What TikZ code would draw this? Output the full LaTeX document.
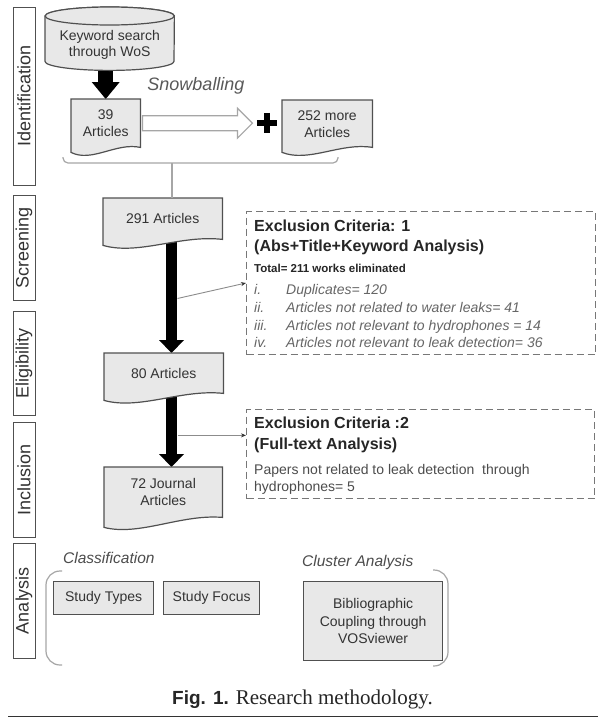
\documentclass[tikz,border=0pt]{standalone}
\usepackage{fontspec}
\setmainfont{Liberation Sans}
\newfontfamily\serifcap{Liberation Serif}
\usetikzlibrary{arrows.meta,calc,backgrounds}
\newcommand\fsz[2]{\fontsize{#1}{#2}\selectfont}
\definecolor{boxfill}{HTML}{E8E8E8}
\definecolor{boxline}{HTML}{505050}
\definecolor{txt}{HTML}{333333}
\definecolor{dashline}{HTML}{777777}
\newcommand\docshape[2]{%
  \coordinate (#1L) at ($(#1.south west)+(0,-#2pt)$);
  \filldraw[docst] (#1L) -- (#1.north west) -- (#1.north east) -- (#1.south east)
    .. controls ($(#1.south east)!0.35!(#1L)+(0,7pt)$) and ($(#1.south east)!0.7!(#1L)+(0,-12pt)$) .. (#1L) -- cycle;}
\begin{document}
\begin{tikzpicture}[x=1pt,y=-1pt]
\tikzset{
  lab/.style={draw=boxline, line width=1pt, rotate=90, minimum height=22pt, inner sep=0pt, font=\fsz{18}{21}, text=txt},
  doc/.style={inner sep=0pt, font=\fsz{14}{17}, text=txt, align=center},
  docst/.style={fill=boxfill, draw=boxline, line width=1.2pt},
  pbox/.style={fill=boxfill, draw=boxline, line width=1.3pt, inner sep=0pt, font=\fsz{14}{17.5}, text=txt, align=center, anchor=north west},
  excl/.style={draw=dashline, line width=1pt, dash pattern=on 7pt off 4pt, inner sep=0pt, anchor=north west},
  ehead/.style={anchor=base west, inner sep=0pt, font=\bfseries\fsz{16}{19}, text=black!85},
  etot/.style={anchor=base west, inner sep=0pt, font=\bfseries\fsz{11.5}{13}, text=black!85},
  eitem/.style={anchor=base west, inner sep=0pt, font=\itshape\fsz{14}{17}, text=black!60},
  etext/.style={anchor=base west, inner sep=0pt, font=\fsz{14}{17}, text=black!70},
  sect/.style={anchor=west, inner sep=0pt, font=\itshape\fsz{15.5}{18}, text=black!70},
  bigarrowA/.style={line width=15pt, -{Triangle[width=28pt,length=17pt,line width=0pt]}},
  bigarrow/.style={line width=11pt, -{Triangle[width=25pt,length=13pt,line width=0pt]}},
  hollow/.style={draw=black!35, line width=1.2pt, fill=white},
  brk/.style={draw=black!35, line width=1.2pt},
  vline/.style={draw=black!35, line width=1.2pt},
  conn/.style={draw=black!45, line width=0.9pt, -{Stealth[length=5pt,width=4pt,color=black!80]}}
}
\useasboundingbox (0,0) rectangle (616,718);

% phase labels
\node[lab, minimum width=178pt] (lid) at (24,96) {Identification};
\node[lab, minimum width=105pt] (lsc) at (24,247.5) {Screening};
\node[lab, minimum width=104pt] (lel) at (24,363) {Eligibility};
\node[lab, minimum width=115pt] (lin) at (24,479.5) {Inclusion};
\node[lab, minimum width=115pt] (lan) at (24,600.5) {Analysis};

% database
\node[inner sep=0pt, minimum width=129pt, minimum height=45pt, anchor=north west] (kw) at (45,16) {};
\node[doc, font=\fsz{14}{16}] (kwt) at ($(kw.center)+(0,-6.5pt)$) {Keyword search\\through WoS};

% documents
\node[doc, minimum width=69pt, minimum height=48pt, anchor=north west] (n39) at (71,99) {39\\Articles};
\node[doc, minimum width=90pt, minimum height=47pt, anchor=north west] (n252) at (282,100) {252 more\\Articles};
\node[doc, minimum width=119pt, minimum height=41pt, anchor=north west] (n291) at (103,198) {291 Articles};
\node[doc, minimum width=119pt, minimum height=40pt, anchor=north west] (n80) at (104,353) {80 Articles};
\node[doc, minimum width=118pt, minimum height=50pt, anchor=north west] (n72) at (104,467) {72 Journal\\Articles};

\node[font=\itshape\fsz{18}{21}, text=black!65, inner sep=0pt] (snow) at (196,86) {Snowballing};
\node[minimum size=20pt, inner sep=0pt] (plus) at (267,123) {};

\coordinate (ax) at (171.5,0);
\coordinate (bm) at (172,163);

% exclusion boxes
\node[excl, minimum width=349pt, minimum height=143pt] (ex1) at (246,211) {};
\node[ehead] (e1a) at (254,231.5) {Exclusion Criteria: 1};
\node[ehead] (e1b) at (254,251.5) {(Abs+Title+Keyword Analysis)};
\node[etot] (e1c) at (254,272) {Total= 211 works eliminated};
\node[eitem] (e1d) at (254,294) {\makebox[32pt][l]{i.}Duplicates= 120};
\node[eitem] (e1e) at (254,312) {\makebox[32pt][l]{ii.}Articles not related to water leaks= 41};
\node[eitem] (e1f) at (254,330) {\makebox[32pt][l]{iii.}Articles not relevant to hydrophones = 14};
\node[eitem] (e1g) at (254,347) {\makebox[32pt][l]{iv.}Articles not relevant to leak detection= 36};

\node[excl, minimum width=348pt, minimum height=89pt] (ex2) at (246,409) {};
\node[ehead] (e2a) at (254,428.5) {Exclusion Criteria :2};
\node[ehead] (e2b) at (254,449.5) {(Full-text Analysis)};
\node[etext] (e2c) at (254,474) {Papers not related to leak detection\ \ through};
\node[etext] (e2d) at (254,491) {hydrophones= 5};

% analysis
\node[sect] (cls) at (63,558) {Classification};
\node[sect] (cla) at (302,562) {Cluster Analysis};
\node[pbox, minimum width=100pt, minimum height=33pt] (st) at (53,581) {Study Types};
\node[pbox, minimum width=96pt, minimum height=33pt] (sf) at (163,581) {Study Focus};
\node[pbox, minimum width=139pt, minimum height=79pt] (bc) at (303,581) {Bibliographic\\Coupling through\\VOSviewer};

% caption
\node[anchor=west, inner sep=0pt, text=black!85] (cap) at (172,699) {\fsz{19}{22}\bfseries Fig. 1. {\mdseries\serifcap\fsz{21}{24}Research methodology.}};
\draw[line width=1.5pt, black!80] (8,716.5) -- (598,716.5);

% background shapes
\begin{scope}[on background layer]
  \fill[white] (0,0) rectangle (616,718);
  \draw[bigarrowA] ($(kw.south -| n39.north)+(0,-5pt)$) -- (n39.north);
  \draw[bigarrow] ($(n291.south -| ax)+(0,2pt)$) -- (n80.north -| ax);
  \draw[bigarrow] ($(n80.south -| ax)+(0,2pt)$) -- (n72.north -| ax);
  \docshape{n39}{5}
  \docshape{n252}{5}
  \docshape{n291}{6}
  \docshape{n80}{7}
  \docshape{n72}{10}
  \filldraw[docst] (kw.north west) -- (kw.south west) arc[start angle=180, end angle=360, x radius=64.5pt, y radius=9pt] -- (kw.north east) arc[start angle=0, end angle=180, x radius=64.5pt, y radius=9pt] -- cycle;
  \filldraw[docst] (kw.north) ellipse[x radius=64.5pt, y radius=9pt];
\end{scope}

% hollow arrow and plus
\coordinate (ha) at ($(n39.east)+(2pt,0)$);
\draw[hollow] ($(ha)+(0,7.5pt)$) -- ++(95pt,0pt) -- ++(0pt,7.5pt) -- ++(15pt,-15pt) -- ++(-15pt,-15pt) -- ++(0pt,7.5pt) -- ++(-95pt,0pt) -- cycle;
\draw[line width=5.5pt] (plus.west) -- (plus.east) (plus.north) -- (plus.south);

% brackets
\draw[brk, rounded corners=5pt] (63,157) -- (63,163) -- (338,163) -- (338,157);
\draw[vline] (bm) -- (n291.north -| bm);
\draw[brk, rounded corners=14pt] (62,571) -- (46,571) -- (46,665) -- (62,665);
\draw[brk, rounded corners=14pt] (433,570) -- (448,570) -- (448,666) -- (433,666);

% connectors
\coordinate (c1) at ($(n291.south -| ax)!0.52!(n80.north -| ax)+(6pt,0)$);
\draw[conn] (c1) -- (ex1.west);
\coordinate (c2) at ($(n80.south -| ax)!0.57!(n72.north -| ax)+(6pt,0)$);
\draw[conn] (c2) -- (c2 -| ex2.west);
\end{tikzpicture}
\end{document}
